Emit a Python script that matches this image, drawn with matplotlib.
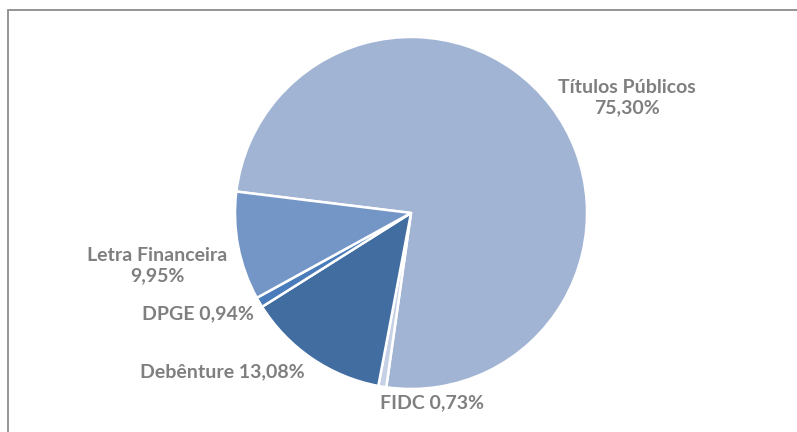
import matplotlib
matplotlib.use("Agg")
import matplotlib.pyplot as plt
from matplotlib.patches import Rectangle

# Portfolio composition by asset class (%)
categories = ["Títulos Públicos", "FIDC", "Debênture", "DPGE", "Letra Financeira"]
values = [75.30, 0.73, 13.08, 0.94, 9.95]
colors = ["#A2B4D4", "#C6D1E6", "#416DA0", "#4A7BBA", "#7496C6"]
explode = [0.033, 0, 0, 0, 0]

W, H = 797, 432
fig = plt.figure(figsize=(W / 100, H / 100), dpi=100)
ax = fig.add_axes([0, 0, 1, 1])

cx, cy, r = 411, H - 213, 176
ax.pie(values, colors=colors, explode=explode, startangle=173,
       counterclock=False, center=(cx, cy), radius=r,
       wedgeprops=dict(edgecolor="white", linewidth=1.8))
ax.set_xlim(0, W)
ax.set_ylim(0, H)
ax.set_aspect("equal")
ax.axis("off")

# chart frame
ax.add_patch(Rectangle((8, -20), W + 20, H - 10 + 20, fill=False,
                       edgecolor="#8C8C8C", linewidth=1.3))

# section title (sits above the frame, only its descenders reach the page)
fig.text(41 / W, 1 + 3.5 / H, "Composição da Carteira", fontfamily="Lato",
         fontweight="bold", fontsize=13, color="#404040", va="baseline")

lab = dict(fontfamily="Lato", fontweight="bold", fontsize=14,
           color="#7F7F7F", ha="center", va="center", linespacing=1.25)

def pct(v):
    return f"{v:.2f}".replace(".", ",") + "%"

ax.text(627, H - 98, f"{categories[0]}\n{pct(values[0])}", **lab)
ax.text(432, H - 403, f"{categories[1]} {pct(values[1])}", **lab)
ax.text(222, H - 372, f"{categories[2]} {pct(values[2])}", **lab)
ax.text(198, H - 314, f"{categories[3]} {pct(values[3])}", **lab)
ax.text(157, H - 266, f"{categories[4]}\n{pct(values[4])}", **lab)

fig.savefig("out.png", dpi=100)
